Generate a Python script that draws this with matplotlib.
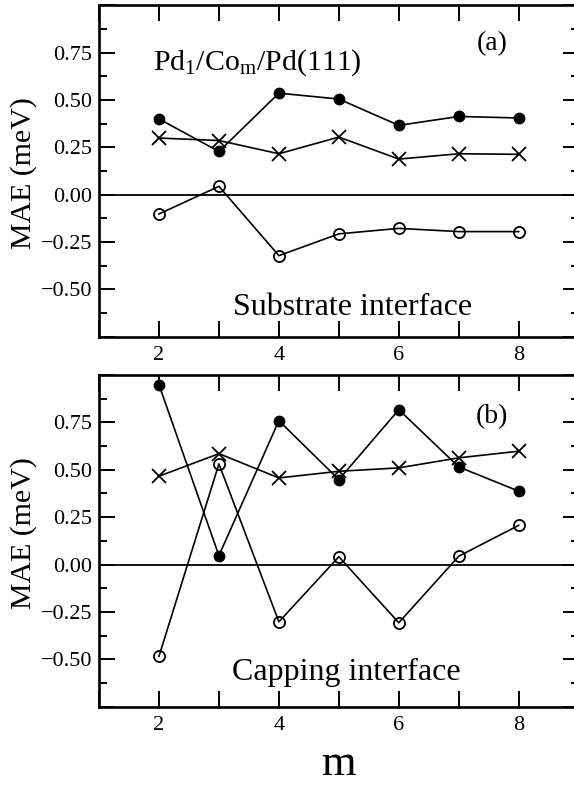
import numpy as np
import matplotlib
matplotlib.use('Agg')
import matplotlib.pyplot as plt
from matplotlib.ticker import MultipleLocator, FuncFormatter

plt.rcParams['font.family'] = ['Liberation Serif', 'DejaVu Serif']
plt.rcParams['mathtext.fontset'] = 'custom'
plt.rcParams['mathtext.rm'] = 'Liberation Serif'
plt.rcParams['mathtext.it'] = 'Liberation Serif:italic'

m = [2, 3, 4, 5, 6, 7, 8]

# (a) substrate interface
sub_filled = [0.40, 0.228, 0.536, 0.505, 0.366, 0.413, 0.405]
sub_cross = [0.299, 0.286, 0.216, 0.304, 0.188, 0.216, 0.213]
sub_open = [-0.102, 0.044, -0.322, -0.207, -0.178, -0.195, -0.195]

# (b) capping interface
cap_filled = [0.949, 0.047, 0.759, 0.448, 0.817, 0.515, 0.387]
cap_cross = [0.466, 0.585, 0.457, 0.492, 0.510, 0.563, 0.598]
cap_open = [-0.484, 0.531, -0.302, 0.041, -0.307, 0.044, 0.207]

W, H = 574, 787
fig = plt.figure(figsize=(W/100, H/100), dpi=100)
ax1 = fig.add_axes([99/W, 1-336.7/H, 479.7/W, 331.4/H])
ax2 = fig.add_axes([99/W, 1-706.7/H, 479.7/W, 331.7/H])

lw = 1.2
def draw(ax, filled, cross, opn):
    ax.axhline(0, color='k', lw=1.3, zorder=1)
    ax.plot(m, filled, '-o', color='k', lw=lw, ms=7.5, zorder=3)
    ax.plot(m, cross, '-x', color='k', lw=lw, ms=10, mew=1.3, zorder=3)
    ax.plot(m, opn, '-o', color='k', lw=lw, ms=8, mew=1.3, fillstyle='none', zorder=3)
    ax.set_xlim(1, 9)
    ax.set_ylim(-0.75, 1.0)
    ax.xaxis.set_major_locator(MultipleLocator(1))
    ax.xaxis.set_major_formatter(FuncFormatter(lambda v, p: '%d' % v if (v % 2 == 0 and 2 <= v <= 8) else ''))
    ax.yaxis.set_major_locator(MultipleLocator(0.25))
    ax.yaxis.set_minor_locator(MultipleLocator(0.125))
    ax.yaxis.set_major_formatter(FuncFormatter(lambda v, p: ('%.2f' % v).replace('-', '\u2212') if -0.6 < v < 0.8 else ''))
    ax.tick_params(which='both', direction='in', top=True, right=True, width=1.4, labelsize=16)
    ax.tick_params(which='major', length=11.5)
    ax.tick_params(which='minor', length=5.8)
    ax.tick_params(axis='y', pad=5)
    ax.tick_params(axis='x', pad=7)
    for s in ax.spines.values():
        s.set_linewidth(1.9)

draw(ax1, sub_filled, sub_cross, sub_open)
draw(ax2, cap_filled, cap_cross, cap_open)

ax1.text(7.55, 0.80, '(a)', fontsize=20, ha='center', va='center')
ax1.text(1.90, 0.66, r'Pd$_{1}$/Co$_{\mathrm{m}}$/Pd(111)', fontsize=21.5, ha='left', va='baseline')
ax1.text(3.235, -0.638, 'Substrate interface', fontsize=23, ha='left', va='baseline')
ax2.text(7.55, 0.782, '(b)', fontsize=20, ha='center', va='center')
ax2.text(3.218, -0.607, 'Capping interface', fontsize=23, ha='left', va='baseline')

fig.text(24/W, 1-173.5/H, 'MAE (meV)', rotation=90, fontsize=21.5, ha='center', va='center')
fig.text(24/W, 1-533.5/H, 'MAE (meV)', rotation=90, fontsize=21.5, ha='center', va='center')
fig.text(338/W, 1-775/H, 'm', fontsize=32, ha='center', va='baseline')

fig.savefig('out.png', dpi=100)
